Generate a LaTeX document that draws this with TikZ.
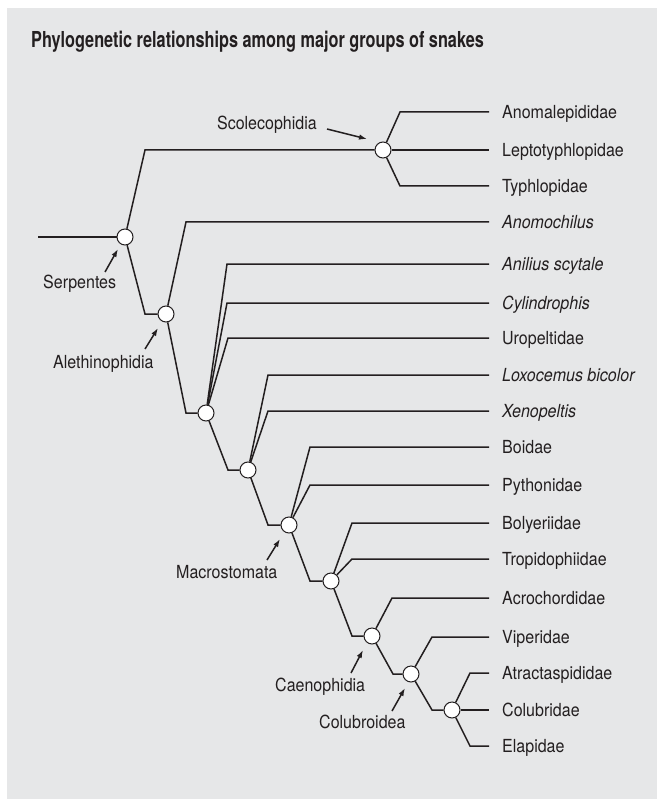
\documentclass[tikz,border=0pt]{standalone}
\usepackage{fontspec}
\setmainfont{TeX Gyre Heros}[FakeStretch=0.89]
\newfontfamily\titlefont{TeX Gyre Heros}[FakeStretch=0.74]
\usetikzlibrary{arrows.meta}
\definecolor{bg}{HTML}{E6E7E8}
\definecolor{ink}{HTML}{231F20}
\begin{document}
\begin{tikzpicture}[x=1pt,y=-1pt,
  br/.style={line width=1.5pt, draw=ink, line join=miter},
  nd/.style={circle, draw=ink, fill=white, line width=1pt, minimum size=16pt, inner sep=0pt},
  leaf/.style={anchor=base west, inner sep=0pt, font=\fontsize{18}{20}\selectfont, text=ink},
  clade/.style={inner sep=0pt, font=\fontsize{18}{20}\selectfont, text=ink},
  arr/.style={-{Latex[length=8pt,width=5.5pt]}, line width=1.5pt, draw=ink, fill=ink}]

\fill[bg] (7,8) rectangle (657,799);
\useasboundingbox (0,0) rectangle (657,799);

\node[anchor=base west, inner sep=0pt, text=ink,
      font=\titlefont\bfseries\fontsize{22}{26}\selectfont] (title) at (31,48)
  {Phylogenetic relationships among major groups of snakes};

% leaves
\foreach \n/\y/\t in {
  anom/112/Anomalepididae, lept/150/Leptotyphlopidae, typh/186/Typhlopidae,
  anoc/222/{\textit{Anomochilus}}, anil/264/{\textit{Anilius scytale}},
  cyli/303/{\textit{Cylindrophis}}, urop/338/Uropeltidae,
  loxo/375/{\textit{Loxocemus bicolor}}, xeno/411/{\textit{Xenopeltis}},
  boid/447/Boidae, pyth/485/Pythonidae, boly/523/Bolyeriidae,
  trop/559/Tropidophiidae, acro/598/Acrochordidae, vipe/637/Viperidae,
  atra/673/Atractaspididae, colu/710/Colubridae, elap/746/Elapidae}
{
  \coordinate (\n-e) at (489,\y);
  \node[leaf] (\n) at (502,\y+6.5) {\t};
}

% internal nodes
\coordinate (root) at (38,237);
\node[nd] (S)  at (125,237) {};
\node[nd] (Sc) at (383,150) {};
\node[nd] (Al) at (166,314) {};
\node[nd] (A3) at (206,413) {};
\node[nd] (A4) at (248,470) {};
\node[nd] (Ma) at (289,525) {};
\node[nd] (B)  at (331,581) {};
\node[nd] (Ca) at (372,636) {};
\node[nd] (Co) at (411,674) {};
\node[nd] (F)  at (452,710) {};

% branches
\draw[br] (root) -- (S);
\draw[br] (S) -- (145,150) -- (Sc);
\draw[br] (Sc) -- (400,112) -- (anom-e);
\draw[br] (Sc) -- (lept-e);
\draw[br] (Sc) -- (400,186) -- (typh-e);
\draw[br] (S) -- (145,314) -- (Al);
\draw[br] (Al) -- (186,222) -- (anoc-e);
\draw[br] (Al) -- (186,413) -- (A3);
\draw[br] (A3) -- (227,264) -- (anil-e);
\draw[br] (A3) -- (227,303) -- (cyli-e);
\draw[br] (A3) -- (228,338) -- (urop-e);
\draw[br] (A3) -- (228,470) -- (A4);
\draw[br] (A4) -- (268,375) -- (loxo-e);
\draw[br] (A4) -- (268,411) -- (xeno-e);
\draw[br] (A4) -- (268,525) -- (Ma);
\draw[br] (Ma) -- (310,447) -- (boid-e);
\draw[br] (Ma) -- (310,485) -- (pyth-e);
\draw[br] (Ma) -- (310,581) -- (B);
\draw[br] (B) -- (352,523) -- (boly-e);
\draw[br] (B) -- (352,559) -- (trop-e);
\draw[br] (B) -- (352,636) -- (Ca);
\draw[br] (Ca) -- (392,598) -- (acro-e);
\draw[br] (Ca) -- (393,674) -- (Co);
\draw[br] (Co) -- (432,637) -- (vipe-e);
\draw[br] (Co) -- (432,710) -- (F);
\draw[br] (F) -- (470,673) -- (atra-e);
\draw[br] (F) -- (colu-e);
\draw[br] (F) -- (470,746) -- (elap-e);

% clade labels
\node[clade, anchor=base west] (serpL) at (43,288) {Serpentes};
\node[clade, anchor=base west] (aletL) at (53,368) {Alethinophidia};
\node[clade, anchor=base east] (scolL) at (317,130) {Scolecophidia};
\node[clade, anchor=base west] (macrL) at (176,578) {Macrostomata};
\node[clade, anchor=base west] (caenL) at (275,691) {Caenophidia};
\node[clade, anchor=base west] (colbL) at (319,728) {Colubroidea};

% arrows
\coordinate (serpA1) at (105,272); \coordinate (serpA2) at (118,249);
\coordinate (aletA1) at (145,349); \coordinate (aletA2) at (158,328);
\coordinate (scolA1) at (327,129); \coordinate (scolA2) at (367,139);
\coordinate (macrA1) at (267,560); \coordinate (macrA2) at (280,539);
\coordinate (caenA1) at (351,673); \coordinate (caenA2) at (363,650);
\coordinate (colbA1) at (392,711); \coordinate (colbA2) at (405,688);
\draw[arr] (serpA1) -- (serpA2);
\draw[arr] (aletA1) -- (aletA2);
\draw[arr] (scolA1) -- (scolA2);
\draw[arr] (macrA1) -- (macrA2);
\draw[arr] (caenA1) -- (caenA2);
\draw[arr] (colbA1) -- (colbA2);
\end{tikzpicture}
\end{document}
